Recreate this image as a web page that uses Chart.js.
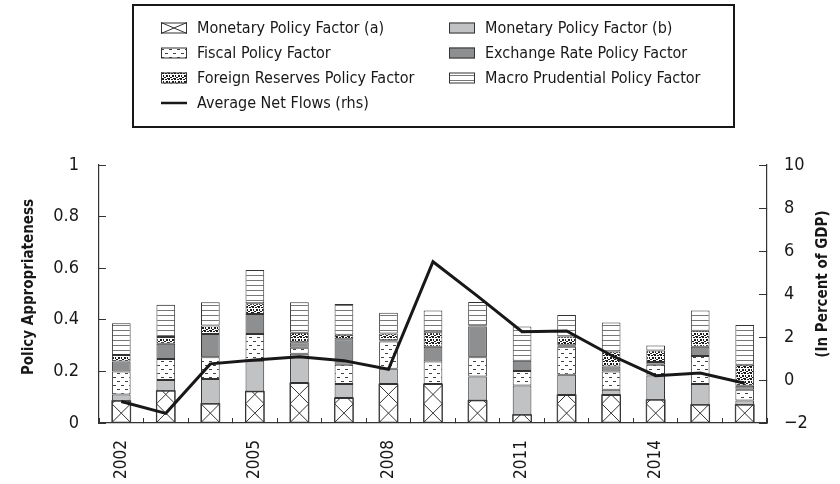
<!DOCTYPE html>
<html><head><meta charset="utf-8">
<script src="https://cdn.jsdelivr.net/npm/chart.js@4/dist/chart.umd.min.js"></script>
<style>html,body{margin:0;padding:0;background:#fff}#wrap{width:840px;height:484px;position:relative}</style>
</head><body><div id="wrap"><canvas id="c"></canvas></div>
<script>
const years = ['2002','2003','2004','2005','2006','2007','2008','2009','2010','2011','2012','2013','2014','2015','2016'];
const labeledYears = ['2002','2005','2008','2011','2014'];
const monetaryA = [0.086,0.125,0.075,0.122,0.155,0.097,0.151,0.151,0.087,0.032,0.109,0.109,0.090,0.071,0.071];
const monetaryB = [0.024,0.042,0.096,0.119,0.113,0.054,0.059,0.000,0.093,0.113,0.078,0.020,0.094,0.080,0.016];
const fiscal    = [0.090,0.081,0.084,0.104,0.024,0.075,0.106,0.087,0.075,0.057,0.109,0.071,0.042,0.109,0.042];
const exchange  = [0.038,0.059,0.090,0.077,0.021,0.099,0.005,0.058,0.119,0.039,0.005,0.019,0.010,0.036,0.015];
const reserves  = [0.026,0.026,0.033,0.042,0.037,0.017,0.026,0.056,0.005,0.000,0.034,0.058,0.045,0.062,0.082];
const macro     = [0.123,0.125,0.090,0.129,0.118,0.119,0.080,0.084,0.090,0.133,0.084,0.113,0.019,0.078,0.154];
const netFlows  = [-1.0,-1.55,0.75,0.93,1.08,0.9,0.5,5.5,3.9,2.25,2.28,1.15,0.2,0.32,-0.15];

const FONT = '"DejaVu Sans Condensed", "Liberation Sans Narrow", "DejaVu Sans", sans-serif';
const INK = '#1a1718';
const EDGE = '#333333';

function makePattern(w, h, draw) {
  const c = document.createElement('canvas');
  c.width = w; c.height = h;
  const g = c.getContext('2d');
  g.fillStyle = '#ffffff'; g.fillRect(0, 0, w, h);
  draw(g);
  return g.createPattern(c, 'repeat');
}
const fiscalPattern = makePattern(8, 8, g => {
  g.fillStyle = '#444';
  g.fillRect(1, 1, 3, 1);
  g.fillRect(5, 5, 3, 1);
});
const reservesPattern = makePattern(6, 6, g => {
  g.fillStyle = '#1a1a1a';
  g.fillRect(0, 0, 2, 2); g.fillRect(3, 1, 2, 1); g.fillRect(1, 3, 1, 2);
  g.fillRect(4, 3, 2, 2); g.fillRect(2, 5, 2, 1); g.fillRect(5, 0, 1, 1);
});
const macroPattern = makePattern(4, 5, g => {
  g.fillStyle = '#777';
  g.fillRect(0, 0, 4, 1);
});

const barCommon = {
  type: 'bar', yAxisID: 'y', order: 1,
  borderColor: EDGE, borderWidth: 1, borderSkipped: false,
  barPercentage: 0.42, categoryPercentage: 1.0
};

const datasets = [
  { type: 'line', label: 'Average Net Flows (rhs)', data: netFlows, yAxisID: 'y1', order: 0,
    borderColor: INK, borderWidth: 3, pointRadius: 0, tension: 0, fill: false },
  Object.assign({ label: 'Monetary Policy Factor (a)', data: monetaryA, backgroundColor: '#ffffff', crossHatch: true }, barCommon),
  Object.assign({ label: 'Monetary Policy Factor (b)', data: monetaryB, backgroundColor: '#c1c2c4' }, barCommon),
  Object.assign({ label: 'Fiscal Policy Factor', data: fiscal, backgroundColor: fiscalPattern }, barCommon),
  Object.assign({ label: 'Exchange Rate Policy Factor', data: exchange, backgroundColor: '#8e8f91' }, barCommon),
  Object.assign({ label: 'Foreign Reserves Policy Factor', data: reserves, backgroundColor: reservesPattern }, barCommon),
  Object.assign({ label: 'Macro Prudential Policy Factor', data: macro, backgroundColor: macroPattern }, barCommon)
];

// cross-hatch drawn inside each bar of the flagged dataset
const crossHatchPlugin = {
  id: 'crossHatch',
  afterDatasetDraw(chart, args) {
    const ds = chart.data.datasets[args.index];
    if (!ds.crossHatch) return;
    const ctx = chart.ctx;
    args.meta.data.forEach(el => {
      const p = el.getProps(['x', 'y', 'base', 'width'], true);
      const left = p.x - p.width / 2, right = p.x + p.width / 2;
      const top = Math.min(p.y, p.base), bottom = Math.max(p.y, p.base);
      if (bottom - top < 0.5) return;
      ctx.save();
      ctx.beginPath(); ctx.rect(left, top, p.width, bottom - top); ctx.clip();
      ctx.strokeStyle = EDGE; ctx.lineWidth = 1;
      ctx.beginPath();
      for (let y0 = bottom; y0 > top - p.width; y0 -= p.width) {
        ctx.moveTo(left, y0); ctx.lineTo(right, y0 - p.width);
        ctx.moveTo(right, y0); ctx.lineTo(left, y0 - p.width);
      }
      ctx.stroke();
      ctx.restore();
      ctx.strokeStyle = EDGE; ctx.lineWidth = 1;
      ctx.strokeRect(left, top, p.width, bottom - top);
    });
  }
};

const legendSlots = [
  ['Monetary Policy Factor (a)', 161, 28], ['Monetary Policy Factor (b)', 449, 28],
  ['Fiscal Policy Factor', 161, 53], ['Exchange Rate Policy Factor', 449, 53],
  ['Foreign Reserves Policy Factor', 161, 78], ['Macro Prudential Policy Factor', 449, 78],
  ['Average Net Flows (rhs)', 161, 103]
];

const decorPlugin = {
  id: 'decor',
  afterDraw(chart) {
    const ctx = chart.ctx;
    ctx.save();
    // legend frame
    ctx.strokeStyle = INK; ctx.lineWidth = 2;
    ctx.strokeRect(133, 5, 601, 122);
    ctx.font = '16px ' + FONT;
    ctx.textBaseline = 'middle'; ctx.textAlign = 'left';
    legendSlots.forEach(([label, x, cy]) => {
      const ds = chart.data.datasets.find(d => d.label === label);
      if (!ds) return;
      if (ds.type === 'line') {
        ctx.strokeStyle = INK; ctx.lineWidth = 2.5;
        ctx.beginPath(); ctx.moveTo(x, cy); ctx.lineTo(x + 26, cy); ctx.stroke();
      } else {
        ctx.fillStyle = ds.backgroundColor;
        ctx.fillRect(x, cy - 5.5, 26, 11);
        ctx.strokeStyle = EDGE; ctx.lineWidth = 1;
        if (ds.crossHatch) {
          ctx.beginPath();
          ctx.moveTo(x, cy - 5.5); ctx.lineTo(x + 26, cy + 5.5);
          ctx.moveTo(x + 26, cy - 5.5); ctx.lineTo(x, cy + 5.5);
          ctx.stroke();
        }
        ctx.strokeRect(x + 0.5, cy - 5, 25, 10);
      }
      ctx.fillStyle = INK;
      ctx.fillText(label, x + 36, cy + 1);
    });
    // axis titles
    ctx.font = 'bold 15px ' + FONT;
    ctx.textAlign = 'center'; ctx.textBaseline = 'middle';
    ctx.save(); ctx.translate(29, 287); ctx.rotate(-Math.PI / 2);
    ctx.fillText('Policy Appropriateness', 0, 0); ctx.restore();
    ctx.save(); ctx.translate(823, 284); ctx.rotate(-Math.PI / 2);
    ctx.fillText('(In Percent of GDP)', 0, 0); ctx.restore();
    ctx.restore();
  }
};

const axisBorder = { display: true, color: EDGE, width: 1.2 };

new Chart(document.getElementById('c'), {
  data: { labels: years, datasets },
  options: {
    responsive: true, maintainAspectRatio: false, animation: false,
    layout: { padding: { top: 165, left: 0, right: 0, bottom: 0 } },
    plugins: { legend: { display: false }, tooltip: { enabled: false } },
    scales: {
      x: {
        stacked: true, offset: true,
        grid: { display: true, offset: true, drawOnChartArea: false, drawTicks: true, tickLength: -5, color: EDGE, lineWidth: 1 },
        border: axisBorder,
        ticks: {
          autoSkip: false, maxRotation: 90, minRotation: 90, padding: 22,
          color: INK, font: { family: FONT, size: 17 },
          callback: function (v) { const l = this.getLabelForValue(v); return labeledYears.includes(l) ? l : ''; }
        },
        afterFit: s => { s.height = 61; }
      },
      y: {
        stacked: true, position: 'left', min: 0, max: 1,
        grid: { display: true, drawOnChartArea: false, drawTicks: true, tickLength: -7, color: EDGE, lineWidth: 1 },
        border: axisBorder,
        ticks: { stepSize: 0.2, padding: 27, color: INK, font: { family: FONT, size: 18 },
          callback: v => String(Math.round(v * 10) / 10) },
        afterFit: s => { s.width = 99; }
      },
      y1: {
        position: 'right', min: -2, max: 10,
        grid: { display: true, drawOnChartArea: false, drawTicks: true, tickLength: -8, color: EDGE, lineWidth: 1 },
        border: axisBorder,
        ticks: { stepSize: 2, padding: 25, color: INK, font: { family: FONT, size: 18 },
          callback: v => v < 0 ? '\u2212' + Math.abs(v) : String(v) },
        afterFit: s => { s.width = 73; }
      }
    }
  },
  plugins: [crossHatchPlugin, decorPlugin]
});
</script>
</body></html>
